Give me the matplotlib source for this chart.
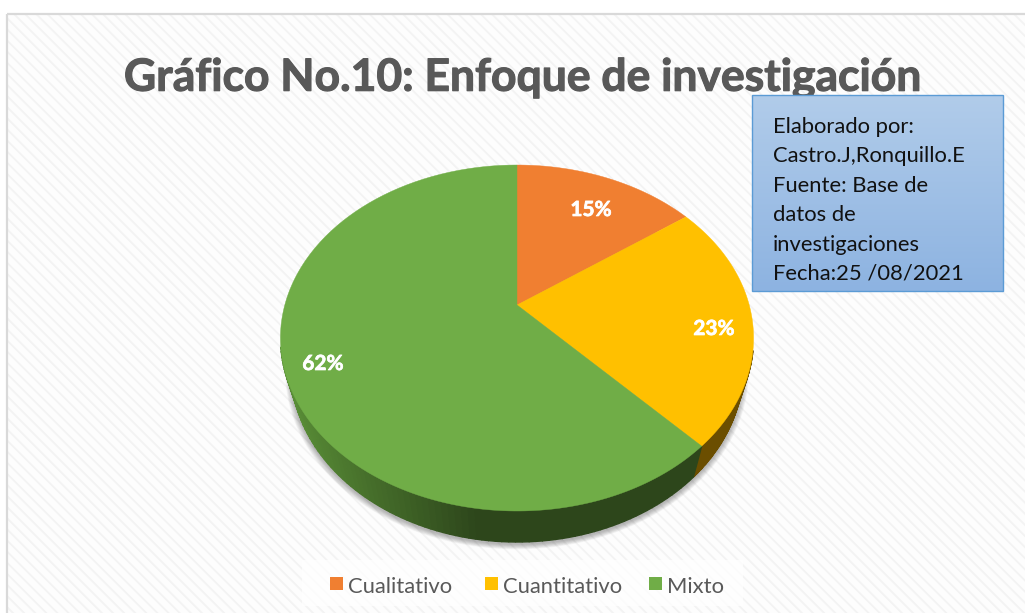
import matplotlib
matplotlib.use('Agg')
import matplotlib.pyplot as plt
import matplotlib.patheffects as pe
import numpy as np
from matplotlib.patches import Rectangle

categorias = ['Cualitativo', 'Cuantitativo', 'Mixto']
valores = [15, 23, 62]
colores = ['#f07f31', '#ffc000', '#70ad47']
etiquetas = ['15%', '23%', '62%']
titulo = 'Gráfico No.10: Enfoque de investigación'
nota = ['Elaborado por:', 'Castro.J,Ronquillo.E', 'Fuente: Base de',
        'datos de', 'investigaciones', 'Fecha:25 /08/2021']

plt.rcParams['font.family'] = ['Lato', 'DejaVu Sans']


def proyectar(t):
    # circulo visto en perspectiva, el centro queda en (517, 305)
    x, y = np.sin(t), np.cos(t)
    d = 1 + 0.1908 * y
    return 517 + 232.2 * x / d, 305 - 166.7 * y / d


def pared(px, py):
    return 517 + (px - 517) * 0.955, py + 31


fig = plt.figure(figsize=(10.25, 6.13), dpi=100)
ax = fig.add_axes([0, 0, 1, 1])
ax.set_xlim(0, 1025)
ax.set_ylim(613, 0)
ax.axis('off')

# fondo con textura
plt.rcParams['hatch.linewidth'] = 1.3
ax.add_patch(Rectangle((7, 14), 1030, 620, facecolor='#fdfdfd', edgecolor='#f3f3f3',
                       hatch='\\\\\\', lw=0, zorder=1))
ax.add_patch(Rectangle((7, 14), 1030, 620, facecolor='none', edgecolor='#d9d9d9',
                       lw=1.6, zorder=2))

# sombra debajo del pie
t_all = np.linspace(0, 2 * np.pi, 361)
sx, sy = pared(*proyectar(t_all))
for i in range(12):
    f = 1 + 0.0022 * (12 - i)
    ax.fill(517 + (sx - 517) * f, 340 + (sy - 340) * f + 2, color='#404040',
            alpha=0.035, lw=0, zorder=3)

# paredes y caras, angulos a partir de los valores
fracciones = np.cumsum([0] + valores) / sum(valores) * 2 * np.pi
paredes = ['#a85a20', '#6b4e00', '#2d461b']
for i, col in enumerate(colores):
    t = np.linspace(fracciones[i], fracciones[i + 1], 160)
    px, py = proyectar(t)
    qx, qy = pared(px, py)
    for j in range(len(t) - 1):
        if py[j] < 350:
            # parte de atras, queda tapada por la cara
            continue
        c = paredes[i]
        if i == 2:
            # degradado del verde hacia la izquierda
            m = np.clip((480 - px[j]) / 190, 0, 1)
            base = np.array([0x2d, 0x46, 0x1b]) / 255
            luz = np.array([0x58, 0x8c, 0x36]) / 255
            c = base + (luz - base) * m
        ax.fill([px[j], px[j + 1], qx[j + 1], qx[j]], [py[j], py[j + 1], qy[j + 1], qy[j]],
                facecolor=c, edgecolor=c, lw=1.0, zorder=4)

for i, col in enumerate(colores):
    t = np.linspace(fracciones[i], fracciones[i + 1], 200)
    px, py = proyectar(t)
    ax.fill(np.r_[517, px], np.r_[305, py], color=col, lw=0.3, zorder=5)

for txt, x, y in zip(etiquetas, [591, 714, 323], [210, 329, 364]):
    ax.text(x, y, txt, color='white', fontsize=15, fontweight='bold', ha='center',
            va='center', zorder=6,
            path_effects=[pe.withStroke(linewidth=0.5, foreground='white')])

ax.text(523, 78, titulo, color='#595959', fontsize=32, fontweight='bold', ha='center',
        va='center', zorder=6,
        path_effects=[pe.withStroke(linewidth=0.8, foreground='#595959')])

# caja de la nota
grad = np.linspace(0, 1, 100).reshape(-1, 1)
arriba = np.array([0xb1, 0xcc, 0xea]) / 255
abajo = np.array([0x8d, 0xb3, 0xe1]) / 255
img = arriba + (abajo - arriba) * grad[:, :, None]
ax.imshow(img, extent=(752, 1003, 291, 95), aspect='auto', zorder=7)
ax.set_xlim(0, 1025)
ax.set_ylim(613, 0)
ax.add_patch(Rectangle((752, 95), 251, 196, facecolor='none', edgecolor='#5b9bd5',
                       lw=1, zorder=8))
for i, linea in enumerate(nota):
    ax.text(773, 127 + i * 29.4, linea, color='#111111', fontsize=15.8, va='center',
            zorder=9)

# leyenda
ax.add_patch(Rectangle((302, 560), 441, 46, facecolor='white', alpha=0.75, lw=0, zorder=6))
for col, txt, xc, xt in zip(colores, categorias, [330, 485, 649], [348, 503, 667]):
    ax.add_patch(Rectangle((xc, 577), 13, 13, facecolor=col, lw=0, zorder=7))
    ax.text(xt, 587, txt, color='#595959', fontsize=15.8, va='center', zorder=7)

fig.savefig('out.png', dpi=100)
